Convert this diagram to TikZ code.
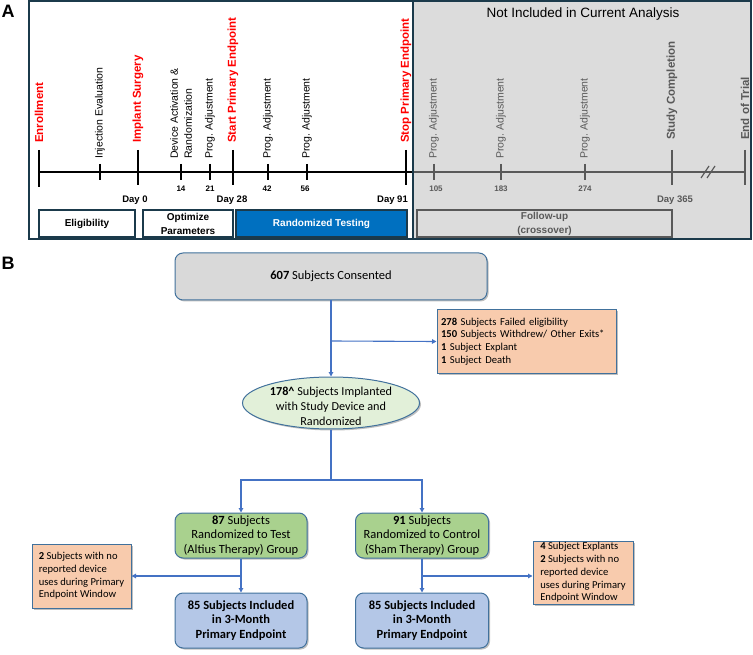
\documentclass[tikz,border=0pt]{standalone}
\usepackage{fontspec}
\setmainfont{Carlito}
\newfontfamily\arial{Liberation Sans}
\usetikzlibrary{arrows.meta,shadows,shapes.geometric}
\definecolor{navy}{HTML}{1B3A4B}
\definecolor{graybg}{HTML}{DCDCDC}
\definecolor{tred}{HTML}{FF0000}
\definecolor{tgray}{HTML}{595959}
\definecolor{rblue}{HTML}{0070C0}
\definecolor{bordB}{HTML}{41719C}
\definecolor{cblue}{HTML}{4472C4}
\definecolor{orangeF}{HTML}{F8CBAD}
\definecolor{greenF}{HTML}{A9D18E}
\definecolor{ellF}{HTML}{E2F0D9}
\definecolor{blueF}{HTML}{B4C7E7}
\definecolor{consF}{HTML}{D9D9D9}
\frenchspacing
\begin{document}
\frenchspacing
\begin{tikzpicture}[x=1pt,y=-1pt,
  redlab/.style={rotate=90,anchor=west,inner sep=0pt,text=tred,font=\arial\bfseries\fontsize{11.5}{13}\selectfont},
  blklab/.style={rotate=90,anchor=west,inner sep=0pt,align=left,font=\arial\fontsize{10.5}{14}\selectfont},
  grylab/.style={blklab,text=tgray},
  grybold/.style={redlab,text=tgray},
  daylab/.style={inner sep=0pt,font=\arial\bfseries\fontsize{9.5}{11}\selectfont},
  numlab/.style={inner sep=0pt,font=\arial\bfseries\fontsize{8}{9}\selectfont},
  tall/.style={line width=1.8pt},
  small/.style={line width=1.5pt},
  abox/.style={draw=navy,line width=1.2pt,minimum height=27pt,inner sep=0pt,align=center,
    font=\arial\bfseries\fontsize{10}{14}\selectfont},
  bshadow/.style={drop shadow={shadow xshift=1.5pt,shadow yshift=-1.5pt,opacity=0.25,fill=black}},
  rbox/.style={draw=bordB,line width=1pt,rounded corners=8pt,align=center,inner sep=1pt,bshadow},
  obox/.style={draw=bordB,line width=1pt,fill=orangeF,align=left,inner ysep=0pt,bshadow,
    font=\fontsize{10.6}{12.7}\selectfont},
  conn/.style={draw=cblue,line width=1.1pt},
  arr/.style={conn,-{Triangle[length=4.5pt,width=4.5pt]}}
]
\useasboundingbox (0,0) rectangle (753,655);

% ---------------- Panel A ----------------
\node[font=\arial\bfseries\fontsize{18}{20}\selectfont,inner sep=0pt] (labA) at (8,11) {A};
\fill[graybg] (413,1) rectangle (751,239);

% timeline
\draw[line width=1.8pt] (39,172) -- (413,172);
\draw[line width=1.8pt,draw=tgray] (413,172) -- (745,172);
\draw[tall] (39,150) -- (39,187);
\draw[small] (100,164) -- (100,180);
\draw[tall] (138,150) -- (138,185);
\draw[small] (181,164) -- (181,180);
\draw[small] (210,164) -- (210,180);
\draw[tall] (233,150) -- (233,185);
\draw[small] (268,164) -- (268,180);
\draw[small] (307,164) -- (307,180);
\draw[tall] (406,150) -- (406,185);
\draw[small,tgray] (434,164) -- (434,180);
\draw[small,tgray] (501,164) -- (501,180);
\draw[small,tgray] (585,164) -- (585,180);
\draw[tall,tgray] (672,150) -- (672,185);
\draw[tall,tgray] (745,150) -- (745,185);
\draw[tgray,line width=1.2pt] (701,178) -- (709,166);
\draw[tgray,line width=1.2pt] (707,178) -- (715,166);

% event labels
\node[redlab] (lEnroll) at (39,143) {Enrollment};
\node[blklab] (lInject) at (100,159) {Injection Evaluation};
\node[redlab] (lImplant) at (138,143) {Implant Surgery};
\node[blklab] (lDevice) at (181,159) {Device Activation \&\\Randomization};
\node[blklab] (lProg21) at (210,159) {Prog. Adjustment};
\node[redlab] (lStart) at (233,143) {Start Primary Endpoint};
\node[blklab] (lProg42) at (268,159) {Prog. Adjustment};
\node[blklab] (lProg56) at (307,159) {Prog. Adjustment};
\node[redlab] (lStop) at (406,143) {Stop Primary Endpoint};
\node[grylab] (lProg105) at (434,159) {Prog. Adjustment};
\node[grylab] (lProg183) at (501,159) {Prog. Adjustment};
\node[grylab] (lProg274) at (585,159) {Prog. Adjustment};
\node[grybold] (lStudy) at (672,140) {Study Completion};
\node[grybold] (lEnd) at (745,140) {End of Trial};
\node[font=\arial\fontsize{13.5}{15}\selectfont,inner sep=0pt] (notinc) at (583,14) {Not Included in Current Analysis};

% day numbers
\node[numlab] (n14) at (181,189) {14};
\node[numlab] (n21) at (210,189) {21};
\node[numlab] (n42) at (267,189) {42};
\node[numlab] (n56) at (305,189) {56};
\node[numlab,text=tgray] (n105) at (436,189) {105};
\node[numlab,text=tgray] (n183) at (501,189) {183};
\node[numlab,text=tgray] (n274) at (585,189) {274};
\node[daylab] (d0) at (135,200) {Day 0};
\node[daylab] (d28) at (232,200) {Day 28};
\node[daylab,anchor=east] (d91) at (408,200) {Day 91};
\node[daylab,text=tgray] (d365) at (675,200) {Day 365};

% phase boxes
\node[abox,fill=white,minimum width=96pt] (elig) at (87,223.5) {Eligibility};
\node[abox,fill=white,minimum width=90pt] (optim) at (188,223.5) {Optimize\\Parameters};
\node[abox,fill=rblue,draw=navy,text=white,minimum width=171pt] (randt) at (321.5,223.5) {Randomized Testing};
\node[abox,fill=graybg,draw=tgray,text=tgray,minimum width=255pt] (follow) at (544.5,223.5) {Follow-up\\(crossover)};

\draw[navy,line width=1.2pt] (413,1) -- (413,239);
\draw[navy,line width=1.5pt] (29,1) rectangle (751,239);

% ---------------- Panel B ----------------
\node[font=\arial\bfseries\fontsize{18}{20}\selectfont,inner sep=0pt] (labB) at (8,263) {B};

\node[rbox,fill=consF,minimum width=312pt,minimum height=47pt,font=\fontsize{12.5}{15}\selectfont] (consent) at (331,276.5) {\textbf{607} Subjects Consented};

\node[obox,minimum width=179pt,minimum height=63pt,text width=171pt,inner xsep=4pt] (excl1) at (526.5,341.5)
  {\textbf{278} Subjects Failed eligibility\\\textbf{150} Subjects Withdrew/ Other Exits*\\\textbf{1} Subject Explant\\\textbf{1} Subject Death};

\node[ellipse,draw=bordB,line width=1pt,fill=ellF,minimum width=177pt,minimum height=52pt,inner sep=0pt,bshadow] (implant) at (331,403) {};
\node[align=center,inner sep=0pt,font=\fontsize{12.2}{15}\selectfont] (implanttxt) at (331,406) {\textbf{178\^{}} Subjects Implanted\\with Study Device and\\Randomized};

\node[rbox,fill=greenF,minimum width=132pt,minimum height=45pt,font=\fontsize{12.5}{14.5}\selectfont] (test) at (241,535.5) {\textbf{87} Subjects\\Randomized to Test\\(Altius Therapy) Group};
\node[rbox,fill=greenF,minimum width=133pt,minimum height=45pt,font=\fontsize{12.5}{14.5}\selectfont] (control) at (422,535.5) {\textbf{91} Subjects\\Randomized to Control\\(Sham Therapy) Group};

\node[rbox,fill=blueF,minimum width=132pt,minimum height=55pt,font=\bfseries\fontsize{12.5}{14.7}\selectfont] (inc1) at (241,620.5) {85 Subjects Included\\in 3-Month\\Primary Endpoint};
\node[rbox,fill=blueF,minimum width=133pt,minimum height=55pt,font=\bfseries\fontsize{12.5}{14.7}\selectfont] (inc2) at (422,620.5) {85 Subjects Included\\in 3-Month\\Primary Endpoint};

\node[obox,minimum width=99pt,minimum height=64pt] (excl2) at (81.5,576)
  {\textbf{2} Subjects with no\\reported device\\uses during Primary\\Endpoint Window};
\node[obox,minimum width=100pt,minimum height=63pt] (excl3) at (583,572.5)
  {\textbf{4} Subject Explants\\\textbf{2} Subjects with no\\reported device\\uses during Primary\\Endpoint Window};

% connectors
\coordinate (br1) at (331,341);
\coordinate (split) at (331,480);
\coordinate (br2) at (241,576);
\coordinate (br3) at (422,576);
\draw[arr] (consent.south) -- (implant.north);
\draw[arr] (br1) -- (excl1.west);
\draw[conn] (implant.south) -- (split);
\draw[arr] (split) -| (test.north);
\draw[arr] (split) -| (control.north);
\draw[arr] (test.south) -- (inc1.north);
\draw[arr] (control.south) -- (inc2.north);
\draw[arr] (br2) -- (excl2.east);
\draw[arr] (br3) -- (br3 -| excl3.west);
\end{tikzpicture}
\end{document}
